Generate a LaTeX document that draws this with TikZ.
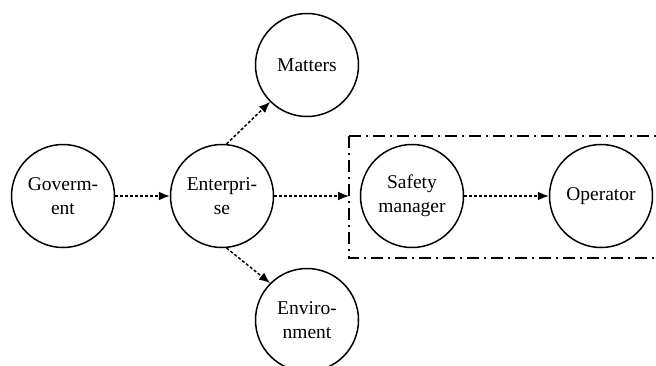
\documentclass[tikz,border=0pt]{standalone}
\usepackage{fontspec}
\setmainfont{Liberation Serif}
\usetikzlibrary{arrows.meta}
\begin{document}
\begin{tikzpicture}[x=1pt,y=-1pt,
  actor/.style={circle,draw,line width=1.5pt,minimum size=103pt,inner sep=0pt,align=center,font=\fontsize{19.5}{24}\selectfont},
  flow/.style={line width=1.5pt,dash pattern=on 3pt off 2pt,-{Latex[length=11pt,width=9pt]}},
  group/.style={line width=1.5pt,dash pattern=on 12pt off 5pt on 2pt off 5pt}]
\useasboundingbox (0,0) rectangle (656,365);
\node[actor] (gov) at (63,196) {Goverm-\\ent};
\node[actor] (ent) at (222,196) {Enterpri-\\se};
\node[actor] (mat) at (307,65) {Matters};
\node[actor] (env) at (307,320) {Enviro-\\nment};
\node[actor] (saf) at (412,196) {Safety\\manager};
\node[actor] (op) at (601,196) {Operator};
\draw[group] (349,136) -- (661,136) (349,136) -- (349,258) -- (661,258);
\coordinate (boxin) at (349,196);
\draw[flow] (gov) -- (ent);
\draw[flow] (ent) -- (boxin);
\draw[flow] (saf) -- (op);
\draw[flow] (ent.85) -- (mat.225);
\draw[flow] (ent.-85) -- (env.135);
\end{tikzpicture}
\end{document}
